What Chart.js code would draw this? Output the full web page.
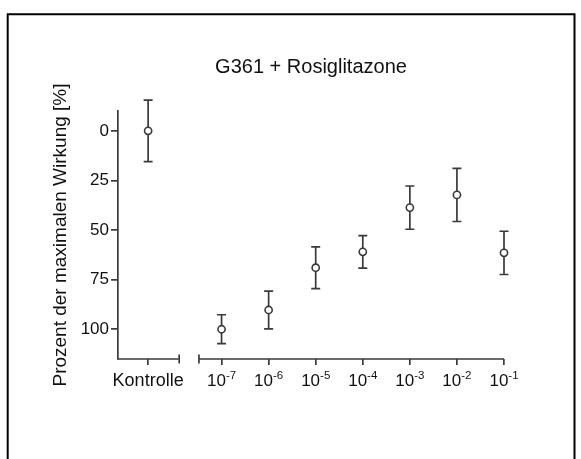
<!DOCTYPE html>
<html>
<head>
<meta charset="utf-8">
<script src="https://cdn.jsdelivr.net/npm/chart.js@4/dist/chart.umd.min.js"></script>
<style>
  html, body { margin: 0; padding: 0; background: #fff; }
  canvas { display: block; }
</style>
</head>
<body>
<canvas id="chart" width="581" height="459"></canvas>
<script>
// x: dose exponent (10^x), Kontrolle has none
const categories = ['Kontrolle', '10-7', '10-6', '10-5', '10-4', '10-3', '10-2', '10-1'];
const doseExponents = [null, -7, -6, -5, -4, -3, -2, -1];
const means = [0, 100, 90.3, 69, 61, 38.7, 32.3, 61.5];
const errors = [15.5, 7.3, 9.5, 10.5, 8.2, 10.9, 13.4, 10.9];
const yTicks = [0, 25, 50, 75, 100];

// layout of the broken x axis, in dose-exponent units
const kontrollePos = -8.56;
const breakLeft = -7.9;
const breakRight = -7.48;

const ink = '#3a3a3a';
const textColor = '#111';
const font = 'Liberation Sans, Arial, sans-serif';

const xValue = (i) => doseExponents[i] === null ? kontrollePos : doseExponents[i];

const decorations = {
    id: 'decorations',
    beforeDraw(chart) {
        const ctx = chart.ctx;
        ctx.save();
        ctx.fillStyle = '#fff';
        ctx.fillRect(0, 0, chart.width, chart.height);
        ctx.strokeStyle = '#000';
        ctx.lineWidth = 2;
        ctx.beginPath();
        ctx.moveTo(7.7, chart.height + 5);
        ctx.lineTo(7.7, 14.3);
        ctx.lineTo(574.5, 14.3);
        ctx.lineTo(574.5, chart.height + 5);
        ctx.stroke();
        ctx.restore();
    },
    beforeDatasetsDraw(chart) {
        const ctx = chart.ctx;
        const x = chart.scales.x;
        const y = chart.scales.y;
        ctx.save();
        ctx.strokeStyle = ink;
        ctx.lineWidth = 1.7;
        means.forEach((m, i) => {
            const px = x.getPixelForValue(xValue(i));
            const top = y.getPixelForValue(m - errors[i]);
            const bot = y.getPixelForValue(m + errors[i]);
            ctx.beginPath();
            ctx.moveTo(px, top);
            ctx.lineTo(px, bot);
            ctx.moveTo(px - 4.5, top);
            ctx.lineTo(px + 4.5, top);
            ctx.moveTo(px - 4.5, bot);
            ctx.lineTo(px + 4.5, bot);
            ctx.stroke();
        });
        ctx.restore();
    },
    afterDraw(chart) {
        const ctx = chart.ctx;
        const x = chart.scales.x;
        const axisY = chart.chartArea.bottom;
        ctx.save();
        // broken x axis
        ctx.strokeStyle = ink;
        ctx.lineWidth = 1.7;
        const l1 = x.getPixelForValue(breakLeft);
        const r1 = x.getPixelForValue(breakRight);
        ctx.beginPath();
        ctx.moveTo(chart.chartArea.left, axisY);
        ctx.lineTo(l1, axisY);
        ctx.moveTo(l1, axisY - 4.5);
        ctx.lineTo(l1, axisY + 4.5);
        ctx.moveTo(r1, axisY - 4.5);
        ctx.lineTo(r1, axisY + 4.5);
        ctx.moveTo(r1, axisY);
        ctx.lineTo(chart.chartArea.right, axisY);
        ctx.stroke();

        // tick labels with superscript exponents
        ctx.fillStyle = textColor;
        ctx.textBaseline = 'alphabetic';
        ctx.textAlign = 'left';
        categories.forEach((label, i) => {
            const px = x.getPixelForValue(xValue(i));
            const parts = label.split('-');
            if (parts.length === 1) {
                ctx.font = '18px ' + font;
                const w = ctx.measureText(label).width;
                ctx.fillText(label, px - w / 2, axisY + 27);
            } else {
                ctx.font = '17px ' + font;
                const w1 = ctx.measureText(parts[0]).width;
                ctx.font = '11.5px ' + font;
                const sup = '-' + parts[1];
                const w2 = ctx.measureText(sup).width;
                const start = px - (w1 + w2) / 2;
                ctx.font = '17px ' + font;
                ctx.fillText(parts[0], start, axisY + 27);
                ctx.font = '11.5px ' + font;
                ctx.fillText(sup, start + w1, axisY + 20);
            }
        });
        ctx.restore();
    },
};

new Chart(document.getElementById('chart'), {
    type: 'scatter',
    data: {
        datasets: [{
            data: means.map((m, i) => ({ x: xValue(i), y: m })),
            clip: false,
            pointStyle: 'circle',
            pointRadius: 3.6,
            pointHoverRadius: 3.6,
            pointBorderWidth: 1.6,
            pointBackgroundColor: '#fff',
            pointBorderColor: ink,
            showLine: false,
        }],
    },
    options: {
        responsive: false,
        animation: false,
        events: [],
        layout: {
            padding: { top: 0, left: 0, right: 77, bottom: 94 },
        },
        plugins: {
            legend: { display: false },
            tooltip: { enabled: false },
            title: {
                display: true,
                text: 'G361 + Rosiglitazone',
                color: textColor,
                fullSize: false,
                font: { family: font, size: 20, weight: 'normal' },
                padding: { top: 55, bottom: 32 },
            },
        },
        scales: {
            x: {
                type: 'linear',
                min: -9.2,
                max: -1,
                afterBuildTicks(scale) {
                    scale.ticks = categories.map((c, i) => ({ value: xValue(i) }));
                },
                border: { display: false },
                grid: {
                    drawOnChartArea: false,
                    drawTicks: true,
                    tickLength: 6,
                    color: ink,
                    lineWidth: 1.7,
                },
                ticks: { display: false },
            },
            y: {
                type: 'linear',
                min: -10,
                max: 115,
                reverse: true,
                afterBuildTicks(scale) {
                    scale.ticks = yTicks.map((v) => ({ value: v }));
                },
                afterFit(scale) {
                    scale.width = 118;
                },
                border: { display: true, color: ink, width: 1.7 },
                grid: {
                    drawOnChartArea: false,
                    drawTicks: true,
                    tickLength: 7,
                    color: ink,
                    lineWidth: 1.7,
                },
                ticks: {
                    color: textColor,
                    padding: 2,
                    font: { family: font, size: 17 },
                },
                title: {
                    display: true,
                    text: 'Prozent der maximalen Wirkung [%]',
                    color: textColor,
                    font: { family: font, size: 19 },
                    padding: { top: 49, bottom: 0 },
                },
            },
        },
    },
    plugins: [decorations],
});
</script>
</body>
</html>
